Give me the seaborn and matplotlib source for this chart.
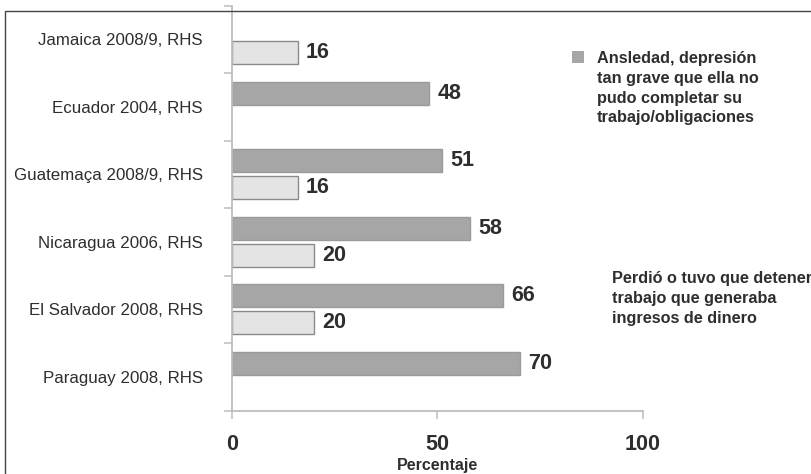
import numpy as np
import pandas as pd
import matplotlib
matplotlib.use("Agg")
import matplotlib.pyplot as plt
from matplotlib.patches import Rectangle
import seaborn as sns

# Data
countries = ["Jamaica 2008/9, RHS", "Ecuador 2004, RHS", "Guatemaça 2008/9, RHS",
             "Nicaragua 2006, RHS", "El Salvador 2008, RHS", "Paraguay 2008, RHS"]
anxiety = [np.nan, 48, 51, 58, 66, 70]
lost_work = [16, np.nan, 16, 20, 20, np.nan]
series = ["anxiety", "lost_work"]
series_labels = ["Ansledad, depresión\ntan grave que ella no\npudo completar su\ntrabajo/obligaciones",
                 "Perdió o tuvo que detener\ntrabajo que generaba\ningresos de dinero"]
x_ticks = [0, 50, 100]

rows = []
for c, a, w in zip(countries, anxiety, lost_work):
    rows.append([c, "anxiety", a])
    rows.append([c, "lost_work", w])
df = pd.DataFrame(rows, columns=["country", "series", "value"]).dropna()

sns.set_style("white")
plt.rcParams["font.family"] = ["Liberation Sans", "DejaVu Sans"]

dark = "#a6a6a6"
light = "#e4e4e4"
txt = "#2e2e2e"
axis_col = "#bdbdbd"

fig = plt.figure(figsize=(8.11, 4.74), dpi=100)
ax = fig.add_axes([232 / 811, 63.5 / 474, 411 / 811, 405 / 474])

sns.barplot(data=df, x="value", y="country", hue="series", order=countries,
            hue_order=series, palette={"anxiety": dark, "lost_work": light},
            orient="h", width=0.8, gap=0.13, dodge=True, legend=False, ax=ax)

for cont, ec in zip(ax.containers, ["#9a9a9a", "#8a8a8a"]):
    for p in cont:
        p.set_edgecolor(ec)
        p.set_linewidth(1.0)
    ax.bar_label(cont, fmt="{:.0f}", padding=6, fontsize=15.5, fontweight="bold", color=txt)

ax.set_xlim(0, 100)
ax.set_ylim(5.5, -0.5)
ax.set_xticks(x_ticks)
ax.set_xticklabels([str(t) for t in x_ticks], fontsize=15.5, fontweight="bold", color=txt)
ax.set_yticks(np.arange(len(countries) + 1) - 0.5)
ax.set_yticklabels([])
ax.set_yticks(np.arange(len(countries)), minor=True)
ax.set_yticklabels(countries, minor=True, fontsize=12.2, color=txt)
ax.tick_params(axis="y", which="major", length=6, width=1.1, color=axis_col, direction="out", left=True)
ax.tick_params(axis="y", which="minor", length=0, pad=21)
ax.tick_params(axis="x", length=6, width=1.1, color=axis_col, direction="out", bottom=True, pad=11)
ax.set_xlabel("Percentaje", fontsize=11.5, fontweight="bold", color=txt, labelpad=2)
ax.set_ylabel("")
for s in ["top", "right"]:
    ax.spines[s].set_visible(False)
for s in ["left", "bottom"]:
    ax.spines[s].set_color(axis_col)
    ax.spines[s].set_linewidth(1.3)

# legend as free text with a marker square
fig.patches.append(Rectangle((572 / 811, 1 - 63 / 474), 12 / 811, 12 / 474,
                             transform=fig.transFigure, facecolor=dark, edgecolor="none"))
fig.text(597 / 811, 1 - 51 / 474, series_labels[0], ha="left", va="top", fontsize=11.7,
         fontweight="bold", color=txt, linespacing=1.4)
fig.text(612 / 811, 1 - 271 / 474, series_labels[1], ha="left", va="top", fontsize=11.7,
         fontweight="bold", color=txt, linespacing=1.4)

# outer frame
fig.patches.append(Rectangle((5 / 811, -0.1), 1.2, 1.1 - 11 / 474, transform=fig.transFigure,
                             facecolor="none", edgecolor="#444444", linewidth=1.0))

fig.savefig("out.png", dpi=100)
